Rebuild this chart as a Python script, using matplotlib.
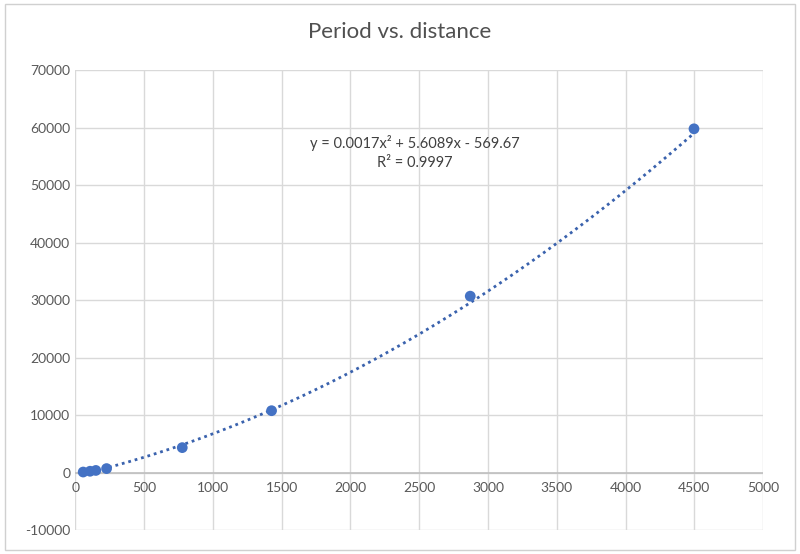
import numpy as np
import matplotlib.pyplot as plt
from matplotlib.patches import Rectangle

# distance (x) vs period (y)
distance = [58, 108, 150, 228, 778, 1427, 2871, 4497]
period = [88, 225, 365, 687, 4333, 10759, 30687, 59800]
trend_coef = [0.0017, 5.6089, -569.67]
x_ticks = list(range(0, 5001, 500))
y_ticks = list(range(-10000, 70001, 10000))

plt.rcParams['font.family'] = ['Lato', 'DejaVu Sans']
plt.rcParams['axes.unicode_minus'] = False
blue = '#4472C4'
grey = '#595959'

fig = plt.figure(figsize=(8, 5.54), dpi=100)
fig.patch.set_facecolor('white')
fig.add_artist(Rectangle((0.006, 0.007), 0.988, 0.985, transform=fig.transFigure,
                         fill=False, edgecolor='#d0d0d0', linewidth=1))

ax = fig.add_axes([0.094, 0.0433, 0.86, 0.830])
ax.set_xlim(0, 5000)
ax.set_ylim(-10000, 70000)
ax.set_xticks(x_ticks)
ax.set_yticks(y_ticks)
ax.grid(True, color='#d9d9d9', linewidth=1)
ax.set_axisbelow(True)
for s in ax.spines.values():
    s.set_visible(False)
ax.axhline(0, color='#bfbfbf', linewidth=1.2, zorder=1)
ax.tick_params(length=0, colors=grey, labelsize=10)
ax.set_xticklabels([])

# x tick labels sit under the zero line, like Excel
for xv in x_ticks:
    ax.text(xv, -1700, str(xv), ha='center', va='top', color=grey, fontsize=10)

xs = np.linspace(min(distance), max(distance), 200)
ax.plot(xs, np.polyval(trend_coef, xs), linestyle=(0, (1, 1.4)), color='#3a62ad',
        linewidth=2, zorder=2)
ax.scatter(distance, period, s=60, color=blue, zorder=3, edgecolors='none')

ax.text(2471, 57400, 'y = 0.0017x² + 5.6089x - 569.67', ha='center', va='center',
        color='#404040', fontsize=10.5)
ax.text(2471, 53900, 'R² = 0.9997', ha='center', va='center', color='#404040', fontsize=10.5)

fig.text(0.5, 0.942, 'Period vs. distance', ha='center', va='center', color='#505050',
         fontsize=16)

fig.savefig('out.png', dpi=100)
